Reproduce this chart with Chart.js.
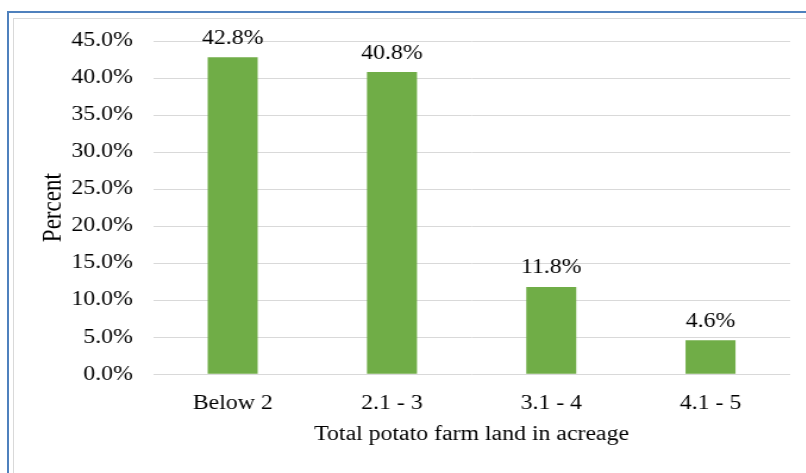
<!DOCTYPE html>
<html>
<head>
<meta charset="utf-8">
<script src="https://cdn.jsdelivr.net/npm/chart.js@4/dist/chart.umd.min.js"></script>
<style>
  html, body { margin: 0; padding: 0; background: #ffffff; }
  body { width: 806px; height: 473px; position: relative; overflow: hidden; }
  #frame { position: absolute; left: 7px; top: 11px; right: -10px; bottom: -10px;
           border-left: 2px solid #4f81bd; border-top: 2px solid #4f81bd; }
  #inner { position: absolute; left: 13px; top: 18px; right: -10px; bottom: -10px;
           border-left: 1px solid #d9d9d9; border-top: 1px solid #d9d9d9; }
  #wrap { position: absolute; left: 0; top: 0; width: 677px; height: 473px;
          transform: scaleX(1.19); transform-origin: 0 0; }
</style>
</head>
<body>
<div id="frame"></div>
<div id="inner"></div>
<div id="wrap"><canvas id="chart" width="677" height="473"></canvas></div>
<script>
// Share of farmers by total potato farm land (acres)
const categories = ['Below 2', '2.1 - 3', '3.1 - 4', '4.1 - 5'];
const percentValues = [42.8, 40.8, 11.8, 4.6];
const yTickMax = 45;
const yTickStep = 5;

const FONT = "'Liberation Serif', 'Times New Roman', serif";
const TEXT = '#000000';

// Value labels above each bar
const barValueLabels = {
  id: 'barValueLabels',
  afterDatasetsDraw(chart) {
    const ctx = chart.ctx;
    const meta = chart.getDatasetMeta(0);
    ctx.save();
    ctx.font = '20px ' + FONT;
    ctx.fillStyle = TEXT;
    ctx.textAlign = 'center';
    ctx.textBaseline = 'alphabetic';
    meta.data.forEach((bar, i) => {
      const v = chart.data.datasets[0].data[i];
      ctx.fillText(v.toFixed(1) + '%', bar.x, bar.y - 13.5);
    });
    ctx.restore();
  }
};

new Chart(document.getElementById('chart'), {
  type: 'bar',
  data: {
    labels: categories,
    datasets: [{
      data: percentValues,
      backgroundColor: '#70ad47',
      borderWidth: 0,
      barPercentage: 0.314,
      categoryPercentage: 1.0
    }]
  },
  options: {
    responsive: false,
    animation: false,
    layout: { padding: { left: 0, right: 13, top: 41, bottom: 0 } },
    plugins: {
      legend: { display: false },
      tooltip: { enabled: false },
      title: { display: false }
    },
    scales: {
      x: {
        grid: { display: false, drawTicks: false },
        border: { display: false },
        ticks: {
          color: TEXT,
          padding: 17,
          font: { family: FONT, size: 20, lineHeight: 1.2 },
          maxRotation: 0
        },
        title: {
          display: true,
          text: 'Total potato farm land in acreage',
          color: TEXT,
          font: { family: FONT, size: 20, lineHeight: 1.2 },
          padding: { top: 0, bottom: 26 }
        },
        afterFit(scale) { scale.height = 98.7; }
      },
      y: {
        min: 0,
        max: yTickMax,
        grid: { color: '#d9d9d9', lineWidth: 1, drawTicks: false },
        border: { display: false },
        ticks: {
          stepSize: yTickStep,
          color: TEXT,
          padding: 17,
          font: { family: FONT, size: 20, lineHeight: 1.2 },
          callback: (v) => Number(v).toFixed(1) + '%'
        },
        title: {
          display: true,
          text: 'Percent',
          color: TEXT,
          font: { family: FONT, size: 23, lineHeight: 1.2 },
          padding: { top: 30.7, bottom: 0 }
        },
        afterFit(scale) { scale.width = 128.6; }
      }
    }
  },
  plugins: [barValueLabels]
});
</script>
</body>
</html>
